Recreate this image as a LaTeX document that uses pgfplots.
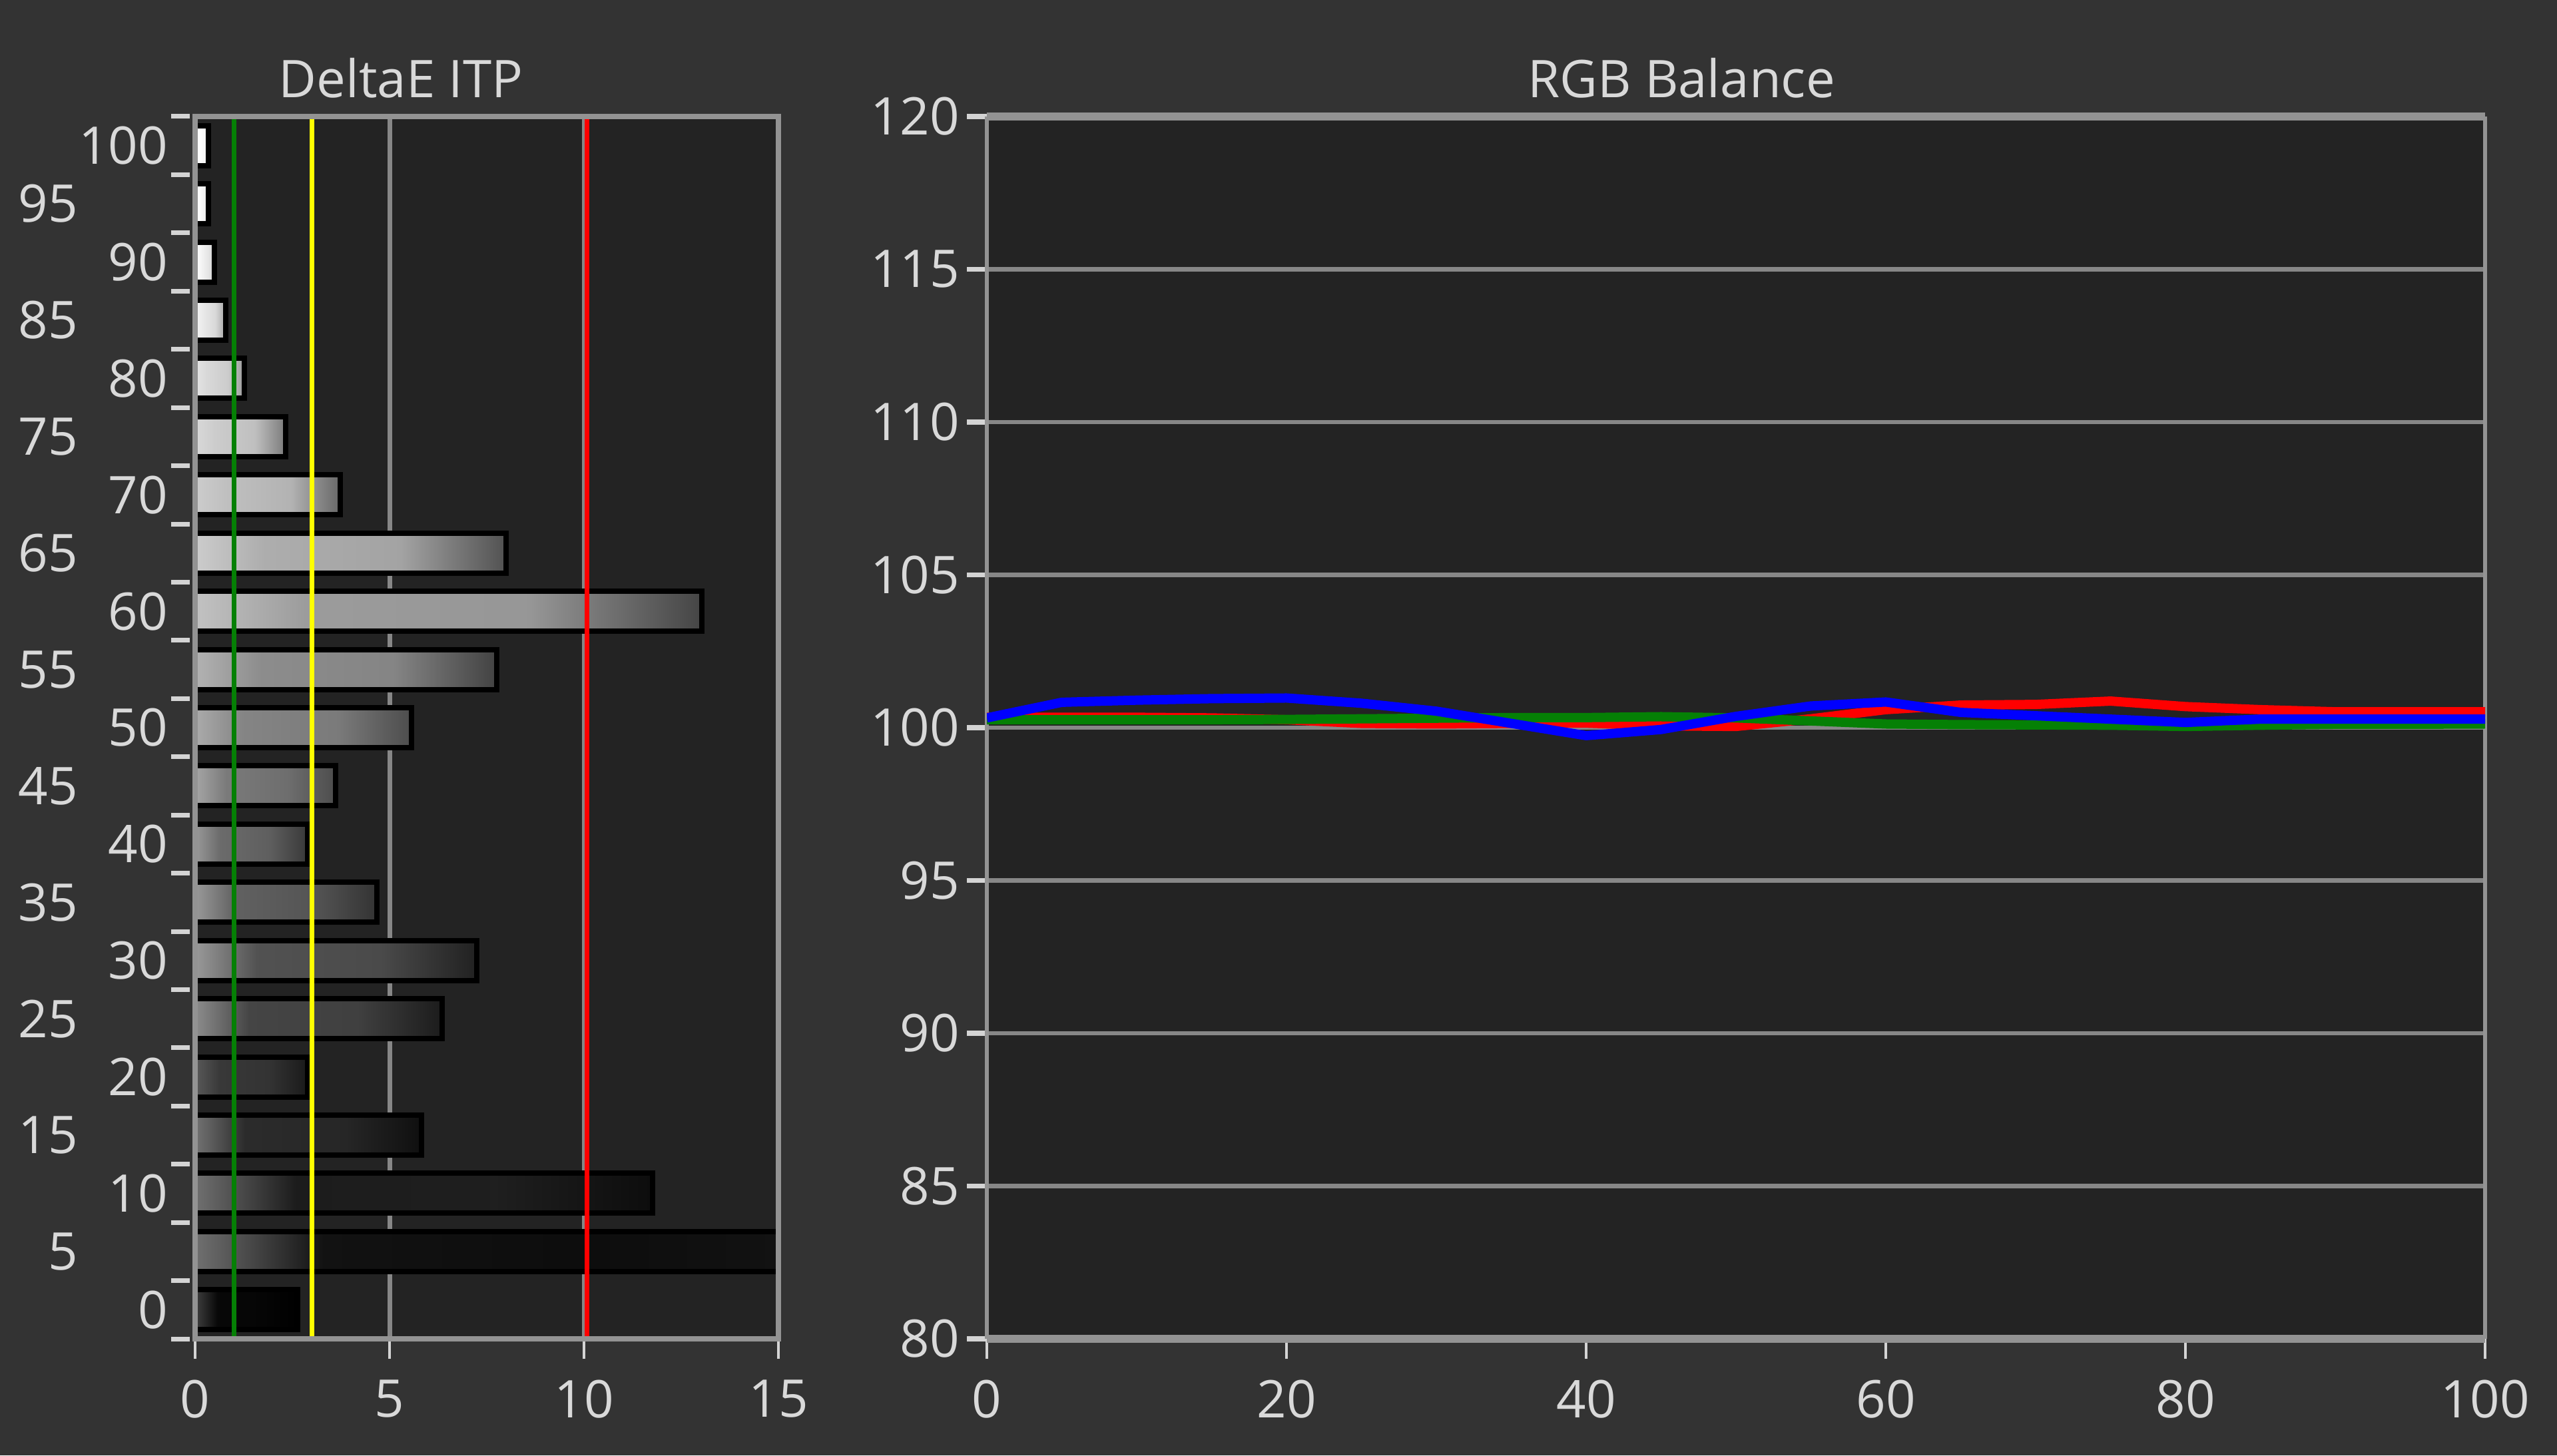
\documentclass[border=0pt]{standalone}
\usepackage{fontspec}
\setmainfont{Open Sans}
\usepackage{pgfplots}
\usepackage{pgfplotstable}
\pgfplotsset{compat=1.18}
\definecolor{bgout}{HTML}{333333}
\definecolor{bgin}{HTML}{232323}
\definecolor{txt}{HTML}{D9D9D9}
\definecolor{framec}{HTML}{939393}
\definecolor{gridc}{HTML}{878787}
\definecolor{tickc}{HTML}{D4D4D4}
\definecolor{lgreen}{HTML}{058005}
\definecolor{lred}{HTML}{FF0000}
\definecolor{lblue}{HTML}{0000FF}
\definecolor{lyellow}{HTML}{FFFF00}
\newcommand\lbl{\fontsize{15.6}{18}\selectfont}
\newcommand\barshade[5]{\pgfdeclarehorizontalshading{#1}{100bp}{color(0bp)=(white!#2!black); color(25bp)=(white!#2!black); color(36bp)=(white!#3!black); color(58bp)=(white!#4!black); color(75bp)=(white!#5!black); color(100bp)=(white!#5!black)}}
\barshade{bpa}{100}{100}{96}{88}
\barshade{bpb}{100}{100}{94}{85}
\barshade{bpc}{100}{97}{90}{80}
\barshade{bpd}{96}{92}{85}{65}
\barshade{bpe}{90}{85}{80}{60}
\barshade{bpf}{85}{80}{75}{48}
\barshade{bpg}{80}{75}{70}{40}
\barshade{bph}{80}{68}{64}{32}
\barshade{bpi}{76}{61}{59}{27}
\barshade{bpj}{70}{55}{52}{26}
\barshade{bpk}{67}{52}{48}{30}
\barshade{bpl}{65}{48}{43}{30}
\barshade{bpm}{60}{42}{37}{22}
\barshade{bpn}{60}{38}{33}{20}
\barshade{bpo}{60}{32}{29}{13}
\barshade{bpp}{55}{27}{25}{11}
\barshade{bpq}{35}{22}{20}{10}
\barshade{bpr}{45}{17}{15}{6}
\barshade{bps}{44}{11}{12}{5}
\barshade{bpt}{44}{7}{5}{7}
\barshade{bpu}{25}{3}{2}{0}
\pgfplotstableread{
x r g b
0 100.34 100.26 100.32
5 100.34 100.26 100.83
10 100.34 100.26 100.90
15 100.32 100.26 100.95
20 100.26 100.27 100.97
25 100.14 100.29 100.80
30 100.12 100.31 100.54
35 100.14 100.33 100.14
40 100.15 100.33 99.74
45 100.06 100.36 99.94
50 100.04 100.32 100.37
55 100.29 100.22 100.71
60 100.59 100.12 100.84
65 100.74 100.10 100.50
70 100.76 100.09 100.39
75 100.87 100.08 100.28
80 100.69 100.04 100.17
85 100.59 100.08 100.28
90 100.52 100.11 100.28
95 100.52 100.11 100.28
100 100.52 100.12 100.28
}\rgbdata
\pgfplotsset{
  barst/.style={xbar, bar width=12pt, bar shift=0pt, draw=black, line width=1.6pt, shade, shading=#1},
}
\begin{document}
\begin{tikzpicture}
\fill[bgout] (0,0) rectangle (768pt,437.2pt);
\begin{axis}[
  at={(58.6pt,35pt)}, anchor=south west, scale only axis,
  width=175.2pt, height=367.2pt,
  xmin=0, xmax=15, ymin=-2.5, ymax=102.5,
  axis on top,
  axis background/.style={fill=bgin},
  axis line style={draw=framec, line width=1.5pt},
  tick align=outside, major tick length=6pt, minor tick length=5.6pt,
  xtick={0,5,10,15}, ytick={0,10,20,30,40,50,60,70,80,90,100},
  extra y ticks={5,15,25,35,45,55,65,75,85,95},
  extra y tick style={yticklabel style={xshift=-27pt}},
  minor ytick={-2.5,2.5,7.5,12.5,17.5,22.5,27.5,32.5,37.5,42.5,47.5,52.5,57.5,62.5,67.5,72.5,77.5,82.5,87.5,92.5,97.5,102.5},
  xtick pos=left, ytick pos=left,
  major y tick style={draw=none},
  minor y tick style={draw=tickc, line width=1.4pt, xshift=-1.6pt},
  major x tick style={draw=tickc, line width=0.8pt},
  ticklabel style={font=\lbl, text=txt, inner sep=0pt},
  /pgf/number format/assume math mode=true,
  yticklabel style={anchor=east, xshift=-2pt},
  xticklabel style={anchor=north, yshift=-6.2pt},
  title={DeltaE ITP},
  title style={at={(axis description cs:0.353,1)}, anchor=base, yshift=-0.3pt, font=\lbl, text=txt, inner sep=0pt},
]
\addplot[gridc, line width=1.4pt] coordinates {(5,-2.5) (5,102.5)};
\addplot[gridc, line width=1.4pt] coordinates {(10,-2.5) (10,102.5)};
\addplot[barst=bpa] coordinates {(0.35,100)};
\addplot[barst=bpb] coordinates {(0.35,95)};
\addplot[barst=bpc] coordinates {(0.5,90)};
\addplot[barst=bpd] coordinates {(0.78,85)};
\addplot[barst=bpe] coordinates {(1.27,80)};
\addplot[barst=bpf] coordinates {(2.33,75)};
\addplot[barst=bpg] coordinates {(3.74,70)};
\addplot[barst=bph] coordinates {(8.0,65)};
\addplot[barst=bpi] coordinates {(13.03,60)};
\addplot[barst=bpj] coordinates {(7.75,55)};
\addplot[barst=bpk] coordinates {(5.56,50)};
\addplot[barst=bpl] coordinates {(3.62,45)};
\addplot[barst=bpm] coordinates {(2.9,40)};
\addplot[barst=bpn] coordinates {(4.68,35)};
\addplot[barst=bpo] coordinates {(7.24,30)};
\addplot[barst=bpp] coordinates {(6.35,25)};
\addplot[barst=bpq] coordinates {(2.9,20)};
\addplot[barst=bpr] coordinates {(5.83,15)};
\addplot[barst=bps] coordinates {(11.77,10)};
\addplot[barst=bpt] coordinates {(15,5)};
\addplot[barst=bpu] coordinates {(2.63,0)};
\addplot[lgreen, line width=1.4pt] coordinates {(1,-2.5) (1,102.5)};
\addplot[lyellow, line width=1.4pt] coordinates {(3,-2.5) (3,102.5)};
\addplot[lred, line width=1.5pt] coordinates {(10.08,-2.5) (10.08,102.5)};
\end{axis}
\begin{axis}[
  at={(296.4pt,35pt)}, anchor=south west, scale only axis,
  width=450pt, height=367.2pt,
  xmin=0, xmax=100, ymin=80, ymax=120,
  axis background/.style={fill=bgin},
  separate axis lines,
  x axis line style={draw=framec, line width=2.4pt},
  y axis line style={draw=framec, line width=1.3pt},
  xtick={0,20,40,60,80,100}, ytick={80,85,90,95,100,105,110,115,120},
  ymajorgrids, grid style={draw=gridc, line width=1.3pt},
  tick align=outside, major tick length=6pt,
  xtick pos=left, ytick pos=left,
  major x tick style={draw=tickc, line width=0.8pt},
  major y tick style={draw=tickc, line width=1.5pt},
  ticklabel style={font=\lbl, text=txt, inner sep=0pt},
  /pgf/number format/assume math mode=true,
  yticklabel style={anchor=east, xshift=-2pt},
  xticklabel style={anchor=north, yshift=-6.2pt},
  title={RGB Balance},
  title style={at={(axis description cs:0.4636,1)}, anchor=base, yshift=-0.3pt, font=\lbl, text=txt, inner sep=0pt},
]
\addplot[lred, line width=2.8pt, line join=round] table[x=x, y=r] {\rgbdata};
\addplot[lgreen, line width=2.8pt, line join=round] table[x=x, y=g] {\rgbdata};
\addplot[lblue, line width=2.8pt, line join=round] table[x=x, y=b] {\rgbdata};
\end{axis}
\end{tikzpicture}
\end{document}
